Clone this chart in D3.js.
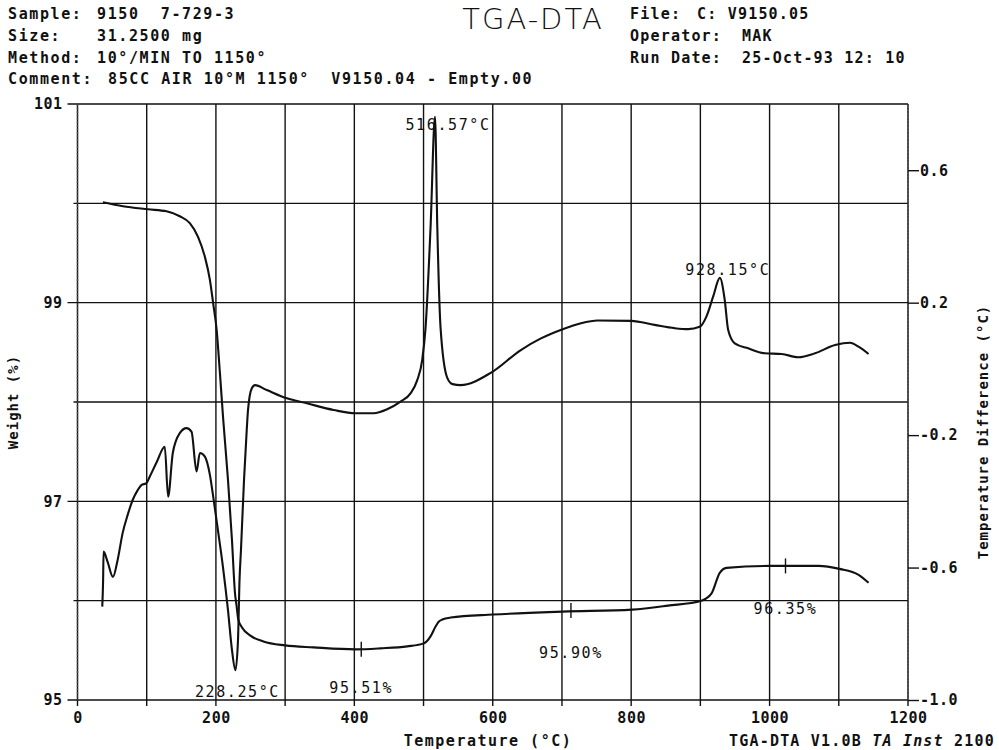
<!DOCTYPE html>
<html><head><meta charset="utf-8">
<script src="https://cdn.jsdelivr.net/npm/d3@7"></script>
<style>
body{margin:0;background:#fff}
svg{display:block}
text{font-family:"DejaVu Sans Mono",monospace;font-weight:bold;fill:#111}
</style></head><body>
<svg id="c" width="999" height="750"></svg>
<script>
// ---------- data ----------
const dtaT = [35.8,37.0,37.7,43.5,51.2,58.0,65.2,72.5,79.7,87.0,92.3,99.6,104.3,114.5,126.1,130.9,137.7,147.8,157.5,164.8,172.0,176.8,184.1,191.3,196.1,202.9,210.1,217.4,223.2,228.25,231.9,234.1,236.2,240.6,244.5,246.4,251.7,256.5,273.5,302.5,331.4,370.0,401.4,428.0,447.4,466.7,481.2,490.9,498.1,502.9,510.1,516.57,519.9,524.6,534.3,542.0,553.6,597.1,640.6,669.6,701.0,727.5,751.7,800.0,833.8,862.8,882.2,899.0,908.7,918.4,928.15,935.2,940.1,949.7,969.1,993.2,1017.4,1041.6,1065.7,1094.6,1116.4,1128.6,1143.0];
const dtaV = [-0.718,-0.638,-0.552,-0.583,-0.628,-0.577,-0.496,-0.441,-0.396,-0.366,-0.351,-0.345,-0.326,-0.281,-0.235,-0.386,-0.254,-0.194,-0.179,-0.190,-0.310,-0.254,-0.265,-0.320,-0.386,-0.487,-0.597,-0.728,-0.849,-0.910,-0.819,-0.638,-0.547,-0.336,-0.185,-0.124,-0.059,-0.049,-0.064,-0.089,-0.104,-0.124,-0.134,-0.134,-0.122,-0.099,-0.074,-0.034,0.027,0.124,0.426,0.761,0.426,0.124,-0.027,-0.046,-0.049,-0.012,0.057,0.092,0.120,0.138,0.146,0.145,0.133,0.123,0.120,0.127,0.158,0.218,0.275,0.208,0.118,0.077,0.062,0.047,0.045,0.035,0.047,0.072,0.079,0.067,0.045];
const tgaT = [36.7,65.7,101.9,128.6,147.8,162.3,174.3,184.1,191.3,196.1,201.0,205.8,210.6,217.4,223.2,227.5,230.0,232.3,237.7,249.3,268.6,300.0,341.0,401.4,437.7,476.4,500.4,510.1,517.4,522.2,527.1,539.1,600.4,701.4,801.4,853.2,901.4,915.9,928.0,937.7,1001.4,1070.6,1101.0,1128.6,1143.0];
const tgaW = [100.01,99.97,99.94,99.92,99.87,99.80,99.66,99.46,99.23,98.99,98.73,98.29,97.82,97.22,96.61,96.08,95.94,95.81,95.73,95.65,95.59,95.55,95.53,95.51,95.52,95.54,95.57,95.64,95.74,95.79,95.81,95.83,95.86,95.89,95.91,95.95,96.00,96.07,96.28,96.33,96.35,96.35,96.32,96.26,96.18];

const peakT = [516.57, 928.15, 228.25];
const peakV = [0.761, 0.275, -0.910];
const peakText = ["516.57°C", "928.15°C", "228.25°C"];
const markT = [410, 713, 1023];
const markW = [95.51, 95.90, 96.35];
const markText = ["95.51%", "95.90%", "96.35%"];

const xTicks = [0,100,200,300,400,500,600,700,800,900,1000,1100,1200];
const xLabels = [0,200,400,600,800,1000,1200];
const wGrid = [95,96,97,98,99,100,101];
const wTicks = [95,97,99,101];
const dTicks = [-1.0,-0.6,-0.2,0.2,0.6];

const headerLeftKeys = ["Sample:", "Size:", "Method:", "Comment:"];
const headerLeftVals = ["9150  7-729-3", "31.2500 mg", "10°/MIN TO 1150°", "85CC AIR 10°M 1150°  V9150.04 - Empty.00"];
const headerRightKeys = ["File:", "Operator:", "Run Date:"];
const headerRightVals = ["C: V9150.05", "MAK", "25-Oct-93 12: 10"];

// ---------- layout ----------
const L = 77.5, R = 908, T = 104, B = 700;
const svg = d3.select("#c");
const x = d3.scaleLinear().domain([0,1200]).range([L,R]);
const yW = d3.scaleLinear().domain([95,101]).range([B,T]);
const yD = d3.scaleLinear().domain([-1.0,0.8]).range([B,T]);

const ink = "#111";
const g = svg.append("g");

// grid
g.append("g").selectAll("line").data(xTicks).join("line")
  .attr("x1", d=>x(d)).attr("x2", d=>x(d)).attr("y1", T).attr("y2", B+6)
  .attr("stroke", ink).attr("stroke-width", 1.4);
g.append("g").selectAll("line").data(wGrid).join("line")
  .attr("x1", d=> wTicks.includes(d) ? L-10 : L-4).attr("x2", R).attr("y1", d=>yW(d)).attr("y2", d=>yW(d))
  .attr("stroke", ink).attr("stroke-width", 1.4);

// frame sides (dotted, as plotted)
g.append("line").attr("x1",L).attr("x2",L).attr("y1",T).attr("y2",B)
  .attr("stroke","#444").attr("stroke-width",1.4).attr("stroke-dasharray","2,1.5");
g.append("line").attr("x1",R).attr("x2",R).attr("y1",T).attr("y2",B)
  .attr("stroke","#444").attr("stroke-width",1.4).attr("stroke-dasharray","2,1.5");

// axes via d3
const fs = 15;
const axB = g.append("g").attr("transform",`translate(0,${B})`)
  .call(d3.axisBottom(x).tickValues(xLabels).tickSize(0).tickPadding(12).tickFormat(d=>d));
const axL = g.append("g").attr("transform",`translate(${L},0)`)
  .call(d3.axisLeft(yW).tickValues(wTicks).tickSize(0).tickPadding(15).tickFormat(d=>d));
const axR = g.append("g").attr("transform",`translate(${R},0)`)
  .call(d3.axisRight(yD).tickValues(dTicks).tickSize(11).tickPadding(1).tickFormat(d=>d.toFixed(1)));
[axB,axL,axR].forEach(a=>{
  a.select(".domain").remove();
  a.selectAll("line").attr("stroke",ink).attr("stroke-width",1.4);
  a.selectAll("text").attr("font-size",fs).attr("fill",ink)
    .style("font-family",'"DejaVu Sans Mono",monospace').style("font-weight","bold").style("letter-spacing","0.5px");
});

// curves
const line = d3.line().curve(d3.curveMonotoneX);
const dtaPts = dtaT.map((t,i)=>[x(t), yD(dtaV[i])]);
const tgaPts = tgaT.map((t,i)=>[x(t), yW(tgaW[i])]);
g.append("path").attr("d", line(dtaPts)).attr("fill","none").attr("stroke",ink).attr("stroke-width",2.1).attr("stroke-linejoin","round");
g.append("path").attr("d", line(tgaPts)).attr("fill","none").attr("stroke",ink).attr("stroke-width",2.1).attr("stroke-linejoin","round");

// weight markers
g.append("g").selectAll("line").data(markT).join("line")
  .attr("x1",d=>x(d)).attr("x2",d=>x(d))
  .attr("y1",(d,i)=>yW(markW[i])-7.5).attr("y2",(d,i)=>yW(markW[i])+7.5)
  .attr("stroke",ink).attr("stroke-width",1.4);

// annotations
const peakDx = [13, 8, 2], peakDy = [13, -3, 27];
g.append("g").selectAll("text").data(peakT).join("text")
  .attr("x",(d,i)=>x(d)+peakDx[i]).attr("y",(d,i)=>yD(peakV[i])+peakDy[i])
  .attr("text-anchor","middle").attr("font-size",15).style("letter-spacing","1.6px").style("font-weight","normal")
  .text((d,i)=>peakText[i]);
const markDy = [44, 47, 48];
g.append("g").selectAll("text").data(markT).join("text")
  .attr("x",d=>x(d)).attr("y",(d,i)=>yW(markW[i])+markDy[i])
  .attr("text-anchor","middle").attr("font-size",15).style("letter-spacing","1.6px").style("font-weight","normal")
  .text((d,i)=>markText[i]);

// axis titles
svg.append("text").attr("transform","translate(18,402) rotate(-90)").attr("text-anchor","middle")
  .attr("font-size",14).style("letter-spacing","1px").text("Weight (%)");
svg.append("text").attr("transform","translate(988,432) rotate(-90)").attr("text-anchor","middle")
  .attr("font-size",14).style("letter-spacing","1px").text("Temperature Difference (°C)");
svg.append("text").attr("x",488).attr("y",746).attr("text-anchor","middle")
  .attr("font-size",15).style("letter-spacing","1.5px").text("Temperature (°C)");
const foot = svg.append("text").attr("x",995).attr("y",746).attr("text-anchor","end")
  .attr("font-size",15).style("letter-spacing","1.2px");
foot.append("tspan").text("TGA-DTA V1.0B ");
foot.append("tspan").attr("font-style","italic").text("TA Inst");
foot.append("tspan").text(" 2100");

// header
const hl = [19, 41, 63, 84];
svg.append("g").selectAll("text").data(headerLeftKeys).join("text")
  .attr("x",8).attr("y",(d,i)=>hl[i]).attr("font-size",15).style("letter-spacing","1.6px").text(d=>d);
svg.append("g").selectAll("text").data(headerLeftVals).join("text")
  .attr("x",(d,i)=> i===3 ? 108 : 97).attr("y",(d,i)=>hl[i]).attr("font-size",15)
  .style("letter-spacing","1.6px").style("white-space","pre").text(d=>d);
const hr = [19, 41, 63];
svg.append("g").selectAll("text").data(headerRightKeys).join("text")
  .attr("x",630).attr("y",(d,i)=>hr[i]).attr("font-size",15).style("letter-spacing","1.2px").text(d=>d);
svg.append("g").selectAll("text").data(headerRightVals).join("text")
  .attr("x",(d,i)=> i===0 ? 697 : 742).attr("y",(d,i)=>hr[i]).attr("font-size",15)
  .style("letter-spacing","1.2px").style("white-space","pre").text(d=>d);
svg.append("text").attr("x",533).attr("y",29).attr("text-anchor","middle")
  .attr("font-size",29).style("font-family",'"DejaVu Sans",sans-serif').style("font-weight","200")
  .style("letter-spacing","2px").text("TGA-DTA");
</script>
</body></html>
